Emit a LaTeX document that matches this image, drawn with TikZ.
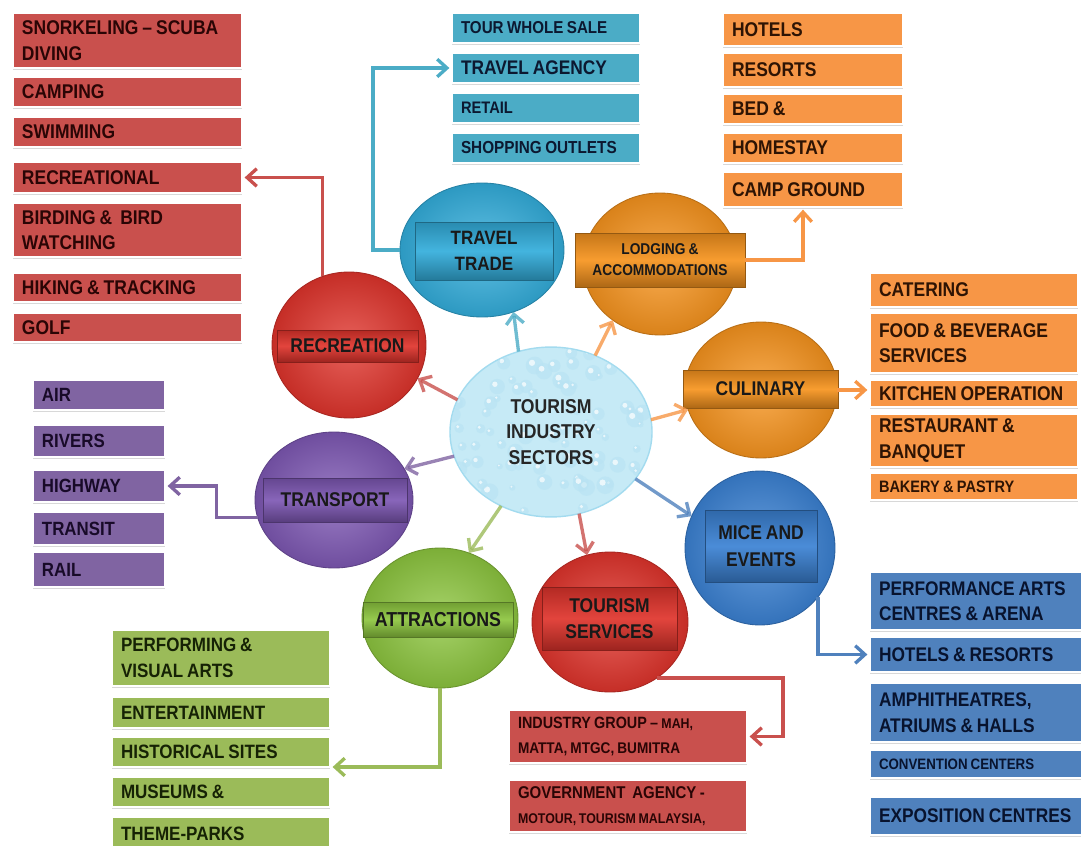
\documentclass[tikz,border=0pt]{standalone}
\usepackage{fontspec}
\setmainfont{Liberation Sans}[FakeStretch=0.88]
\usetikzlibrary{shapes.geometric,arrows.meta,calc,shadows}
\hyphenpenalty=10000
\exhyphenpenalty=10000
\definecolor{cRed}{HTML}{E0342C}
\definecolor{cTeal}{HTML}{33AEDC}
\definecolor{cOrange}{HTML}{F7941E}
\definecolor{cPurple}{HTML}{7E58B4}
\definecolor{cGreen}{HTML}{8DC63F}
\definecolor{cBlue}{HTML}{3B82D4}
\definecolor{bRed}{HTML}{C9504D}
\definecolor{bTeal}{HTML}{4BACC6}
\definecolor{bOrange}{HTML}{F79646}
\definecolor{bPurple}{HTML}{8064A2}
\definecolor{bGreen}{HTML}{9BBB59}
\definecolor{bBlue}{HTML}{4F81BD}
\definecolor{cCenter}{HTML}{C6EAF6}
\definecolor{tRed}{HTML}{2A0505}
\definecolor{tTeal}{HTML}{0C1830}
\definecolor{tOrange}{HTML}{2E1404}
\definecolor{tPurple}{HTML}{180A28}
\definecolor{tGreen}{HTML}{162205}
\definecolor{tBlue}{HTML}{08132E}
\newcommand\tsp{\spaceskip=0.2em\relax\xspaceskip=0.2em\relax}
\newcommand\fsz[2]{\fontsize{#1}{#2}\selectfont\tsp}
\tikzset{
 lbox/.style={rectangle, draw=white, line width=0.7pt, anchor=north west, inner xsep=0.18cm, inner ysep=0pt, outer sep=0pt, align=left, font=\bfseries\fsz{11.3}{14.5}, drop shadow={shadow xshift=0pt, shadow yshift=-1.3pt, opacity=0.3}},
 sph/.style={ellipse, inner sep=0pt, outer sep=0pt, inner color=#1!78!white, outer color=#1!88!black, draw=#1!75!black, line width=0.5pt},
 bandst/.style={rectangle, inner sep=0pt, outer sep=0pt, align=center, top color=#1!80!black, bottom color=#1!70!black, middle color=#1!92!white, draw=#1!60!black, line width=0.5pt, text=black!90},
 carr/.style={draw=#1, line width=1.9pt, -{Straight Barb[length=5.5pt,width=10pt]}, opacity=0.8},
 oarr/.style={draw=#1, line width=1.9pt, -{Straight Barb[length=5.5pt,width=10pt]}, shorten >=1.5pt},
}
\newcommand\lbx[8]{%
 \pgfmathsetmacro\bw{(#4-#2)*0.569055}\pgfmathsetmacro\bh{(#5-#3)*0.569055}\pgfmathsetmacro\tw{\bw-10.24}%
 \node[lbox, fill=#6, text=#7, minimum width=\bw pt, minimum height=\bh pt, text width=\tw pt] (#1) at (#2,#3) {\tsp#8};}
\newcommand\sphere[6]{%
 \pgfmathsetmacro\sw{2*#4*0.569055}\pgfmathsetmacro\sh{2*#5*0.569055}%
 \node[sph=#6, minimum width=\sw pt, minimum height=\sh pt] (#1) at (#2,#3) {};}
\newcommand\bandbox[8]{%
 \pgfmathsetmacro\bw{(#4-#2)*0.569055}\pgfmathsetmacro\bh{(#5-#3)*0.569055}%
 \node[bandst=#6, minimum width=\bw pt, minimum height=\bh pt, font=\bfseries#7] (#1) at ({(#2+#4)/2},{(#3+#5)/2}) {#8};}
\begin{document}
\begin{tikzpicture}[x=0.02cm,y=-0.02cm]
\useasboundingbox (0,0) rectangle (1081,845);
\fill[white] (0,0) rectangle (1081,845);

% Recreation list
\lbx{rs1}{13}{13}{242}{68}{bRed}{tRed}{\fsz{11.3}{14.2}SNORKELING – SCUBA\\DIVING}
\lbx{rs2}{13}{77}{242}{107}{bRed}{tRed}{CAMPING}
\lbx{rs3}{13}{117}{242}{147}{bRed}{tRed}{SWIMMING}
\lbx{rs4}{13}{162}{242}{193}{bRed}{tRed}{RECREATIONAL}
\lbx{rs5}{13}{203}{242}{257}{bRed}{tRed}{\fsz{11.3}{16.5}BIRDING \& \ BIRD\\WATCHING}
\lbx{rs6}{13}{273}{242}{302}{bRed}{tRed}{HIKING \& TRACKING}
\lbx{rs7}{13}{313}{242}{342}{bRed}{tRed}{GOLF}

% Travel trade list
\lbx{tl1}{452}{13}{640}{43}{bTeal}{tTeal}{\fsz{9.8}{12}TOUR WHOLE SALE}
\lbx{tl2}{452}{53}{640}{83}{bTeal}{tTeal}{\fsz{11.2}{13}TRAVEL AGENCY}
\lbx{tl3}{452}{93}{640}{123}{bTeal}{tTeal}{\fsz{9.5}{12}RETAIL}
\lbx{tl4}{452}{133}{640}{163}{bTeal}{tTeal}{\fsz{9.9}{12}SHOPPING OUTLETS}

% Lodging list
\lbx{ol1}{723}{13}{903}{46}{bOrange}{tOrange}{HOTELS}
\lbx{ol2}{723}{53}{903}{87}{bOrange}{tOrange}{RESORTS}
\lbx{ol3}{723}{94}{903}{124}{bOrange}{tOrange}{BED \&}
\lbx{ol4}{723}{133}{903}{163}{bOrange}{tOrange}{HOMESTAY}
\lbx{ol5}{723}{172}{903}{207}{bOrange}{tOrange}{CAMP GROUND}

% Culinary list
\lbx{or1}{870}{273}{1078}{307}{bOrange}{tOrange}{CATERING}
\lbx{or2}{870}{313}{1078}{373}{bOrange}{tOrange}{\fsz{11.3}{14.5}FOOD \& BEVERAGE\\SERVICES}
\lbx{or3}{870}{380}{1078}{407}{bOrange}{tOrange}{KITCHEN OPERATION}
\lbx{or4}{870}{414}{1078}{467}{bOrange}{tOrange}{\fsz{11.3}{14.8}RESTAURANT \&\\BANQUET}
\lbx{or5}{870}{473}{1078}{500}{bOrange}{tOrange}{\fsz{9.4}{12}BAKERY \& PASTRY}

% Transport list
\lbx{pl1}{33}{380}{165}{410}{bPurple}{tPurple}{\fsz{10.9}{13}AIR}
\lbx{pl2}{33}{425}{165}{457}{bPurple}{tPurple}{\fsz{10.9}{13}RIVERS}
\lbx{pl3}{33}{470}{165}{502}{bPurple}{tPurple}{\fsz{10.9}{13}HIGHWAY}
\lbx{pl4}{33}{512}{165}{545}{bPurple}{tPurple}{\fsz{10.9}{13}TRANSIT}
\lbx{pl5}{33}{552}{165}{587}{bPurple}{tPurple}{\fsz{10.9}{13}RAIL}

% Attractions list
\lbx{gl1}{112}{630}{330}{686}{bGreen}{tGreen}{\fsz{11}{16.5}PERFORMING \&\\VISUAL ARTS}
\lbx{gl2}{112}{697}{330}{728}{bGreen}{tGreen}{\fsz{11}{13}ENTERTAINMENT}
\lbx{gl3}{112}{737}{330}{767}{bGreen}{tGreen}{\fsz{11}{13}HISTORICAL SITES}
\lbx{gl4}{112}{777}{330}{807}{bGreen}{tGreen}{\fsz{11}{13}MUSEUMS \&}
\lbx{gl5}{112}{817}{330}{850}{bGreen}{tGreen}{\fsz{11}{13}THEME-PARKS}

% Tourism services list
\lbx{rb1}{509}{710}{747}{763}{bRed}{tRed}{\fsz{9.3}{11.4}INDUSTRY GROUP – {\fsz{8}{10}MAH,}\\{\fsz{8.8}{10}MATTA, MTGC, BUMITRA}}
\lbx{rb2}{509}{780}{747}{832}{bRed}{tRed}{\fsz{9.7}{12}GOVERNMENT \ AGENCY -\\{\fsz{8}{10}MOTOUR, TOURISM MALAYSIA,}}

% MICE list
\lbx{bl1}{870}{572}{1085}{630}{bBlue}{tBlue}{\fsz{11.2}{15.4}PERFORMANCE ARTS\\CENTRES \& ARENA}
\lbx{bl2}{870}{637}{1085}{672}{bBlue}{tBlue}{\fsz{11.2}{14}HOTELS \& RESORTS}
\lbx{bl3}{870}{683}{1085}{742}{bBlue}{tBlue}{\fsz{11.2}{16.5}AMPHITHEATRES,\\ATRIUMS \& HALLS}
\lbx{bl4}{870}{750}{1085}{778}{bBlue}{tBlue}{\fsz{8.6}{11}CONVENTION CENTERS}
\lbx{bl5}{870}{797}{1085}{835}{bBlue}{tBlue}{\fsz{11.2}{14}EXPOSITION CENTRES}

% Sector circles
\sphere{rec}{349}{345}{77}{73}{cRed}
\bandbox{recb}{277}{330}{418}{362}{cRed}{\fsz{11.3}{14.8}}{RECREATION}
\sphere{tt}{482}{250}{82}{67}{cTeal}
\bandbox{ttb}{415}{222}{553}{280}{cTeal}{\fsz{11}{14.8}}{TRAVEL\\TRADE}
\sphere{lodge}{660}{264}{77}{71}{cOrange}
\bandbox{lodgeb}{575}{233}{745}{287}{cOrange}{\fsz{8.9}{12}}{LODGING \&\\ACCOMMODATIONS}
\sphere{cul}{761}{390}{76}{68}{cOrange}
\bandbox{culb}{683}{370}{838}{408}{cOrange}{\fsz{11.3}{14.8}}{CULINARY}
\sphere{mice}{760}{548}{75}{77}{cBlue}
\bandbox{miceb}{705}{510}{817}{582}{cBlue}{\fsz{11.3}{15.4}}{MICE AND\\EVENTS}
\sphere{ts}{610}{622}{78}{70}{cRed}
\bandbox{tsb}{542}{587}{677}{650}{cRed}{\fsz{11.3}{15}}{TOURISM\\SERVICES}
\sphere{attr}{440}{618}{78}{70}{cGreen}
\bandbox{attrb}{363}{602}{513}{637}{cGreen}{\fsz{11.5}{14.8}}{ATTRACTIONS}
\sphere{trans}{334}{500}{79}{68}{cPurple}
\bandbox{transb}{263}{478}{407}{522}{cPurple}{\fsz{11.3}{14.8}}{TRANSPORT}

% Centre
\node[ellipse, minimum width=115pt, minimum height=96.7pt, inner sep=0pt, outer sep=0pt, fill=cCenter, draw=cTeal!45!white, line width=0.8pt] (tis) at (551,432) {};
\begin{scope}
\clip (551,432) ellipse [x radius=100, y radius=84];
\pgfmathsetseed{11}
\foreach \i in {1,...,90}{
 \pgfmathsetmacro\bx{450+202*rnd}
 \pgfmathsetmacro\by{347+170*rnd}
 \pgfmathsetmacro\br{3+6*rnd}
 \fill[cTeal!35!white, opacity=0.6] (\bx,\by) circle [radius=\br];
 \fill[white, opacity=0.7] (\bx-0.3*\br,\by-0.3*\br) circle [radius=0.35*\br];
}
\end{scope}
\node[font=\bfseries\fsz{11.4}{14.7}, align=center, text=black!85] (tist) at (tis.center) {TOURISM\\INDUSTRY\\SECTORS};

% Outer connectors
\draw[oarr=bRed] (rec.111.7) |- (rs4.east);
\draw[oarr=bTeal] (tt.180) -- ++(-27,0) |- (tl2.west);
\draw[oarr=bOrange] (lodgeb.east) -| ($(ol5.south)+(-10,0)$);
\draw[oarr=bOrange] (cul.east) -- (or3.west |- cul.east);
\draw[oarr=bPurple] (trans.193.3) -- ++(-41,0) |- (pl3.east);
\draw[oarr=bBlue] (mice.-40) |- (bl2.west);
\draw[oarr=bGreen] (attr.south) |- (gl3.south east);
\draw[oarr=bRed] (ts.-50) -- ++(126,0) |- (rb1.east);

% Central connectors
\draw[carr=bTeal] (tis.112.4) -- (tt.-63.8);
\draw[carr=bOrange] (tis.60.3) -- (lodge.-130);
\draw[carr=bRed] (tis.161.2) -- (rec.-26.2);
\draw[carr=bOrange] (tis.7.1) -- (cul.195.8);
\draw[carr=bPurple] (tis.194.7) -- (trans.24.3);
\draw[carr=bBlue] (tis.-29.3) -- (mice.155);
\draw[carr=bGreen] (tis.-124) -- (attr.66.8);
\draw[carr=bRed] (tis.-71.4) -- (ts.109);
\end{tikzpicture}
\end{document}
